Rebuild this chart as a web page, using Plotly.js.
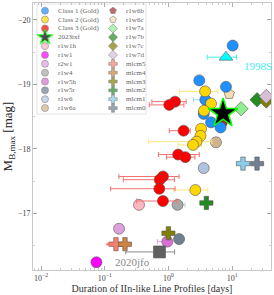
<!DOCTYPE html>
<html><head><meta charset="utf-8">
<script src="https://cdn.plot.ly/plotly-3.0.1.min.js"></script>
<style>html,body{margin:0;padding:0;background:#fff}#chart{width:274px;height:295px}</style>
</head><body><div id="chart"></div>
<script>
// ---------------- DATA ----------------
// Class 1 (Gold)
const class1Dur = [10.2, 3.05, 8.0, 3.79, 3.58, 4.67, 6.58];
const class1Mag = [-19.60, -19.06, -18.96, -18.76, -18.54, -18.41, -18.33];
const class1Lo  = [null, null, null, 2.48, null, null, null];
const class1Hi  = [null, null, null, 4.6, null, null, null];
// Class 2 (Gold)
const class2Dur = [3.76, 4.67, 3.62, 3.25, 3.19, 2.76, 2.43, 2.64];
const class2Mag = [-18.89, -18.70, -18.59, -18.31, -18.20, -18.11, -18.06, -17.36];
const class2Lo  = [1.5, null, null, null, null, 0.49, 1.42, 1.21];
const class2Hi  = [6.0, null, null, null, null, 4.8, 3.3, 4.14];
// Class 3 (Gold)
const class3Dur = [1.27, 1.03, 1.73, 1.42, 1.84, 0.82, 0.73, 0.72, 0.82];
const class3Mag = [-18.73, -18.68, -18.28, -17.91, -17.87, -17.57, -17.52, -17.38, -17.19];
const class3Lo  = [0.55, 0.50, 1.03, 0.70, 0.93, 0.167, 0.196, 0.124, 0.318];
const class3Hi  = [1.90, 1.75, 2.2, 3.05, 2.6, 1.47, 1.24, 1.27, 1.35];
// individual objects
const objNames = ['2023ixf','r1w1h','r1w1','r2w1','r1w4','r1w5h','r1w5r','r1w6','r1w6a',
                  'r1w6b','r1w6c','r1w7a','r1w7b','r1w7c','r1w7d',
                  'mlcm5','mlcm4','mlcm3','mlcm2','mlcm1','mlcm0'];
const objDur = [7.2, 0.345, 0.074, 0.168, 1.39, 0.96, 1.47, 3.58, 5.58,
                7.2, 9.0, 13.8, 24.6, 34.3, 34.3,
                0.150, 0.208, 1.0, 3.94, 14.8, 24.6];
const objMag = [-18.55, -17.13, -16.24, -16.76, -17.13, -16.56, -16.60, -17.70, -18.10,
                -18.42, -18.85, -18.62, -18.76, -18.74, -18.81,
                -16.52, -16.52, -16.69, -17.16, -17.77, -17.77];
const objLo = [null,null,null,null,1.2,0.67,null,null,null, null,null,null,null,null,null, 0.113,null,null,null,null,null];
const objHi = [null,null,null,null,1.82,1.0,null,null,null, null,null,null,null,null,null, null,null,null,null,null,null];
// labelled comparison objects
const refNames = ['1998S', '2020jfo'];
const refDur = [8.0, 0.724];
const refMag = [-19.42, -16.40];
const refLo  = [4.07, 0.214];
const refHi  = [11.7, 1.25];
// axis ticks
const xTickVals = [0.01, 0.1, 1, 10];
const xTickText = ['10<sup>−2</sup>', '10<sup>−1</sup>', '10<sup>0</sup>', '10<sup>1</sup>'];
const yTickVals = [-20, -19, -18, -17];
const yTickText = ['−20', '−19', '−18', '−17'];

// ---------------- STYLES ----------------
const classStyle = [
  {name:'Class 1 (Gold)', color:'#1e90ff', err:'#9fd3ff'},
  {name:'Class 2 (Gold)', color:'#ffd700', err:'#ffe680'},
  {name:'Class 3 (Gold)', color:'#ff0000', err:'#f27272'}
];
const objColor = ['#000000','#ffb6c1','#ff00ff','#dda0dd','#a9a9a9','#da70d6','#708090','#b0c4de','#d2b48c',
                  '#a52a2a','#f5deb3','#90ee90','#228b22','#808000','#d8bfd8',
                  '#fa8072','#cd853f','#808000','#228b22','#87ceeb','#708090'];
const objSymbol = ['star','circle','circle','circle','circle','circle','circle','circle','circle',
                   'pentagon','pentagon','diamond','diamond','diamond','diamond',
                   'cross','cross','cross','cross','cross','cross'];
const objErrColor = {'r1w4':'#c8c8c8','r1w5h':'#ee99ee','mlcm5':'#fa8072'};
const refStyle = [
  {color:'#00ffff', symbol:'triangle-up', err:'#40f0f0', text:'#40f0f0'},
  {color:'#606060', symbol:'square', err:'#8a8a8a', text:'#8a8a8a'}
];
const EDGE = {color:'#555', width:0.6};
const MS = 11;

function errs(dur, lo, hi){
  return {
    plus: dur.map((d,i)=> hi[i]==null ? 0 : hi[i]-d),
    minus: dur.map((d,i)=> lo[i]==null ? 0 : d-lo[i])
  };
}

const traces = [];
const classData = [
  [class1Dur, class1Mag, class1Lo, class1Hi],
  [class2Dur, class2Mag, class2Lo, class2Hi],
  [class3Dur, class3Mag, class3Lo, class3Hi]
];
objNames.forEach((n,i)=>{
  if (n==='2023ixf') return;
  const e = errs([objDur[i]],[objLo[i]],[objHi[i]]);
  traces.push({
    type:'scatter', mode:'markers', name:n, x:[objDur[i]], y:[objMag[i]],
    marker:{color:objColor[i], symbol:objSymbol[i], size:MS, line:EDGE},
    error_x: (objLo[i]!=null||objHi[i]!=null) ? {type:'data', symmetric:false, array:e.plus, arrayminus:e.minus,
      color:objErrColor[n]||objColor[i], thickness:1, width: n==='mlcm5'?0:2.5} : {visible:false},
    showlegend:false, cliponaxis:true
  });
  if (n==='mlcm5') {
    traces.push({type:'scatter', mode:'markers', x:[objLo[i]], y:[objMag[i]],
      marker:{color:'#fa8072', symbol:'triangle-left', size:5}, showlegend:false});
  }
});
classData.forEach((c,k)=>{
  const e = errs(c[0], c[2], c[3]);
  traces.push({
    type:'scatter', mode:'markers', name:classStyle[k].name, x:c[0], y:c[1],
    marker:{color:classStyle[k].color, size:MS, line:EDGE},
    error_x:{type:'data', symmetric:false, array:e.plus, arrayminus:e.minus,
      color:classStyle[k].err, thickness:1, width:2.5},
    showlegend:false
  });
});
refNames.forEach((n,i)=>{
  const e = errs([refDur[i]],[refLo[i]],[refHi[i]]);
  traces.push({
    type:'scatter', mode:'markers', name:n, x:[refDur[i]], y:[refMag[i]],
    marker:{color:refStyle[i].color, symbol:refStyle[i].symbol, size:MS+1, line:EDGE},
    error_x:{type:'data', symmetric:false, array:e.plus, arrayminus:e.minus,
      color:refStyle[i].err, thickness:1, width:2.5},
    showlegend:false
  });
});
{
  const i = objNames.indexOf('2023ixf');
  traces.push({type:'scatter', mode:'markers', name:'2023ixf', x:[objDur[i]], y:[objMag[i]],
    marker:{color:'#000', symbol:'star', size:22, line:{color:'#00ff00', width:1.5}}, showlegend:false});
}

// ---------------- LEGEND (drawn on a pixel overlay) ----------------
const legendItems = [];
classStyle.forEach(s=>legendItems.push({name:s.name, color:s.color, symbol:'circle', size:7, line:EDGE}));
objNames.forEach((n,i)=>{
  if (n==='2023ixf') legendItems.push({name:n, color:'#000', symbol:'star', size:12, line:{color:'#00ff00', width:1.2}});
  else legendItems.push({name:n, color:objColor[i], symbol:objSymbol[i], size:7, line:EDGE});
});
const rowsPerCol = 12, colX = [12, 80], textDX = 11, row0 = 7.7, rowDY = 8.85;
const lgX=[], lgY=[], lgC=[], lgS=[], lgZ=[], lgLC=[], lgLW=[];
const annotations = [];
legendItems.forEach((it,j)=>{
  const col = Math.floor(j/rowsPerCol), row = j%rowsPerCol;
  const px = colX[col], py = row0 + row*rowDY;
  lgX.push(px); lgY.push(py); lgC.push(it.color); lgS.push(it.symbol); lgZ.push(it.size);
  lgLC.push(it.line.color); lgLW.push(it.line.width);
  annotations.push({xref:'x2', yref:'y2', x:px+textDX, y:py, text:it.name, showarrow:false,
    xanchor:'left', yanchor:'middle', font:{family:'Liberation Serif, serif', size:7, color:'#666'}});
});
traces.push({type:'scatter', mode:'markers', xaxis:'x2', yaxis:'y2', x:lgX, y:lgY,
  marker:{color:lgC, symbol:lgS, size:lgZ, line:{color:lgLC, width:lgLW}}, showlegend:false, hoverinfo:'skip'});

annotations.push({x:Math.log10(refDur[0])+0.50, y:refMag[0]+0.13, text:refNames[0], showarrow:false,
  font:{family:'Liberation Serif, serif', size:11, color:refStyle[0].text}, xanchor:'center', yanchor:'middle'});
annotations.push({x:Math.log10(refDur[1])-0.42, y:refMag[1]+0.15, text:refNames[1], showarrow:false,
  font:{family:'Liberation Serif, serif', size:11, color:refStyle[1].text}, xanchor:'center', yanchor:'middle'});

const minorX = [];
[0.01,0.1,1,10].forEach(d=>{for(let k=2;k<=9;k++) minorX.push(d*k);});
minorX.push(0.009, 0.008);

const axisCommon = {showline:true, linecolor:'#c8c8c8', linewidth:1, mirror:'ticks', ticks:'inside',
  tickcolor:'#999', ticklen:4, tickwidth:0.8, showgrid:false, zeroline:false,
  tickfont:{family:'Liberation Serif, serif', size:8, color:'#444'}};

const layout = {
  width:274, height:295, margin:{l:33, r:3, t:3, b:25},
  paper_bgcolor:'#fff', plot_bgcolor:'#fff', showlegend:false,
  font:{family:'Liberation Serif, serif'},
  xaxis: Object.assign({}, axisCommon, {type:'log', range:[-2.126, 1.61], tickmode:'array',
    tickvals:xTickVals, ticktext:xTickText,
    minor:{tickmode:'array', tickvals:minorX, ticks:'inside', ticklen:2, tickcolor:'#aaa', tickwidth:0.6},
    title:{text:'Duration of IIn-like Line Profiles [days]', font:{size:10, color:'#333'}, standoff:2}}),
  yaxis: Object.assign({}, axisCommon, {range:[-16.12, -20.26], tickmode:'array',
    tickvals:yTickVals, ticktext:yTickText,
    minor:{dtick:0.5, ticks:'inside', ticklen:2, tickcolor:'#aaa', tickwidth:0.6},
    title:{text:'M<sub>B,max</sub> [mag]', font:{size:13, color:'#222'}, standoff:4}}),
  xaxis2:{overlaying:'x', anchor:'y2', range:[0,238], visible:false, fixedrange:true},
  yaxis2:{overlaying:'y', anchor:'x2', range:[267,0], visible:false, fixedrange:true},
  shapes:[{type:'rect', xref:'x2', yref:'y2', x0:4, x1:113, y0:1, y1:111,
    line:{color:'#dddddd', width:0.8}, fillcolor:'rgba(255,255,255,0.8)', layer:'below'}],
  annotations: annotations
};
Plotly.newPlot('chart', traces, layout, {displayModeBar:false, staticPlot:true});
</script></body></html>
